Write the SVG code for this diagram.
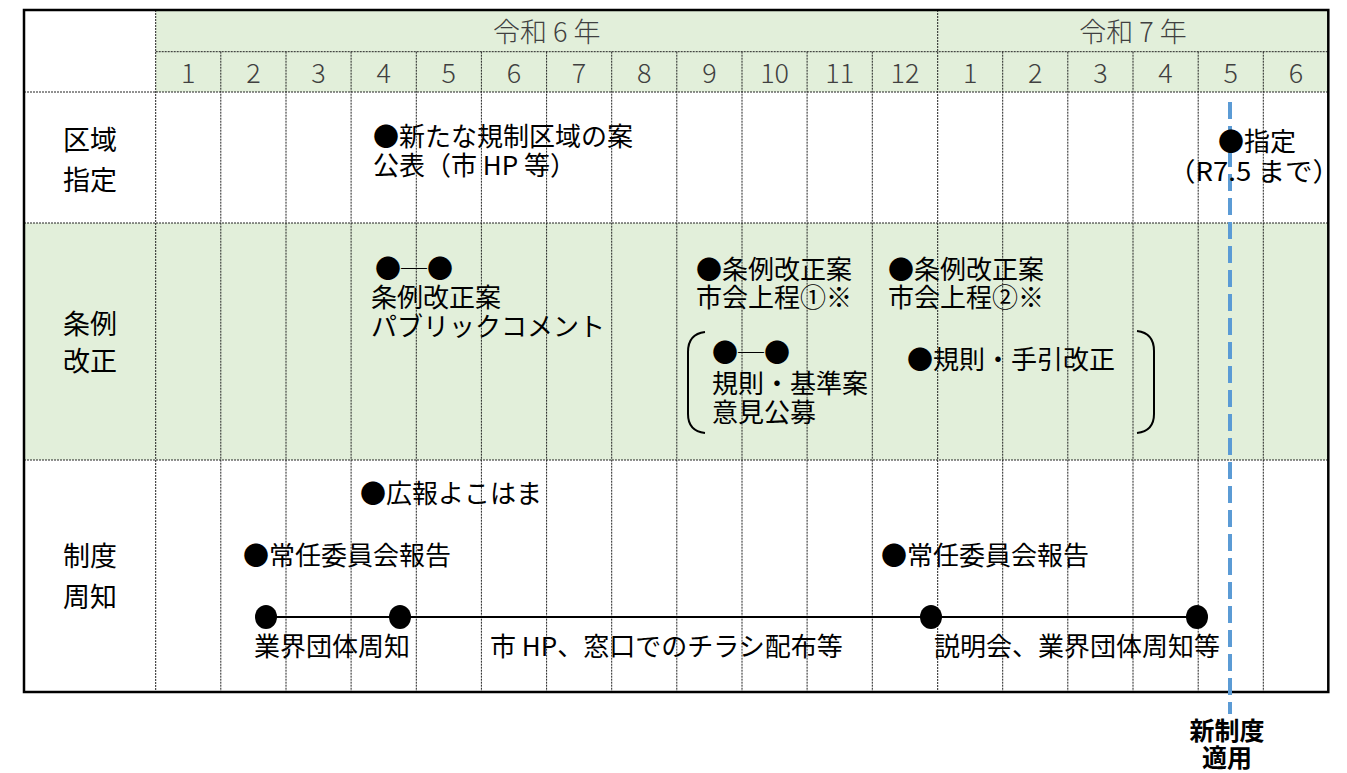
<svg xmlns="http://www.w3.org/2000/svg" width="1347" height="773" viewBox="0 0 1347 773">
<style>
.t{font-family:"Noto Sans CJK JP","Noto Sans",sans-serif;font-size:26px;fill:#000}
.lbl{font-family:"Noto Sans CJK JP","Noto Sans",sans-serif;font-size:27px;fill:#000;text-anchor:middle}
.hd{font-family:"Noto Sans CJK JP","Noto Sans",sans-serif;font-size:27px;font-weight:300;fill:#404040;text-anchor:middle}
.grid{stroke:#222;stroke-width:1;stroke-dasharray:2 1;fill:none}
.br{stroke:#000;stroke-width:2;fill:none}
.dot{fill:#000}
.bold{font-family:"Noto Sans CJK JP","Noto Sans",sans-serif;font-size:25px;font-weight:700;fill:#000;text-anchor:middle}
</style>
<rect x="0" y="0" width="1347" height="773" fill="#fff"/>
<g id="table">
<rect x="155.7" y="10" width="1172.6" height="82" fill="#E2EFDA"/>
<rect x="24" y="223" width="1304.3" height="237" fill="#E2EFDA"/>
<g class="grid">
<line x1="155.7" y1="51.7" x2="1328.3" y2="51.7"/>
<line x1="24" y1="92" x2="1328.3" y2="92"/>
<line x1="24" y1="223" x2="1328.3" y2="223"/>
<line x1="24" y1="460" x2="1328.3" y2="460"/>
<line x1="155.7" y1="10" x2="155.7" y2="692"/>
<line x1="220.8" y1="51.7" x2="220.8" y2="692"/>
<line x1="286" y1="51.7" x2="286" y2="692"/>
<line x1="351.1" y1="51.7" x2="351.1" y2="692"/>
<line x1="416.3" y1="51.7" x2="416.3" y2="692"/>
<line x1="481.4" y1="51.7" x2="481.4" y2="692"/>
<line x1="546.6" y1="51.7" x2="546.6" y2="692"/>
<line x1="611.7" y1="51.7" x2="611.7" y2="692"/>
<line x1="676.8" y1="51.7" x2="676.8" y2="692"/>
<line x1="742" y1="51.7" x2="742" y2="692"/>
<line x1="807.1" y1="51.7" x2="807.1" y2="692"/>
<line x1="872.3" y1="51.7" x2="872.3" y2="692"/>
<line x1="937.7" y1="10" x2="937.7" y2="692"/>
<line x1="1002.7" y1="51.7" x2="1002.7" y2="692"/>
<line x1="1067.8" y1="51.7" x2="1067.8" y2="692"/>
<line x1="1133" y1="51.7" x2="1133" y2="692"/>
<line x1="1198.2" y1="51.7" x2="1198.2" y2="692"/>
<line x1="1263.3" y1="51.7" x2="1263.3" y2="692"/>
</g>
<rect x="24" y="10" width="1304.3" height="682" fill="none" stroke="#000" stroke-width="2.5"/>
</g>
<g id="header">
<text class="hd" x="546.7" y="42">令和 6 年</text>
<text class="hd" x="1133" y="42">令和 7 年</text>
<text class="hd" x="188.2" y="83">1</text>
<text class="hd" x="253.4" y="83">2</text>
<text class="hd" x="318.5" y="83">3</text>
<text class="hd" x="383.7" y="83">4</text>
<text class="hd" x="448.8" y="83">5</text>
<text class="hd" x="514" y="83">6</text>
<text class="hd" x="579.1" y="83">7</text>
<text class="hd" x="644.3" y="83">8</text>
<text class="hd" x="709.4" y="83">9</text>
<text class="hd" x="774.6" y="83">10</text>
<text class="hd" x="839.7" y="83">11</text>
<text class="hd" x="904.9" y="83">12</text>
<text class="hd" x="970.2" y="83">1</text>
<text class="hd" x="1035.3" y="83">2</text>
<text class="hd" x="1100.4" y="83">3</text>
<text class="hd" x="1165.6" y="83">4</text>
<text class="hd" x="1230.8" y="83">5</text>
<text class="hd" x="1295.9" y="83">6</text>
</g>
<g id="row-labels">
<text class="lbl" x="90" y="150">区域</text>
<text class="lbl" x="90" y="190">指定</text>
<text class="lbl" x="90" y="334">条例</text>
<text class="lbl" x="90" y="371">改正</text>
<text class="lbl" x="90" y="566">制度</text>
<text class="lbl" x="90" y="607">周知</text>
</g>
<g id="apply-line">
<line x1="1230" y1="102" x2="1230" y2="714" stroke="#5B9BD5" stroke-width="4" stroke-dasharray="17 7"/>
<text class="bold" x="1227" y="740">新制度</text>
<text class="bold" x="1227" y="767">適用</text>
</g>
<g id="zone-draft">
<text class="t" x="373" y="146">●新たな規制区域の案</text>
<text class="t" x="373" y="175">公表（市 HP 等）</text>
</g>
<g id="zone-designation">
<text class="t" x="1218" y="151">●指定</text>
<text class="t" x="1168" y="181" textLength="172" lengthAdjust="spacingAndGlyphs">（R7.5 まで）</text>
</g>
<g id="ordinance-pubcomment">
<text class="t" x="375" y="278">●─●</text>
<text class="t" x="371" y="307">条例改正案</text>
<text class="t" x="371" y="336">パブリックコメント</text>
</g>
<g id="ordinance-council1">
<text class="t" x="696" y="279">●条例改正案</text>
<text class="t" x="696" y="307">市会上程①※</text>
</g>
<g id="ordinance-council2">
<text class="t" x="888" y="279">●条例改正案</text>
<text class="t" x="888" y="307">市会上程②※</text>
</g>
<g id="rules-comment">
<text class="t" x="712" y="362">●─●</text>
<text class="t" x="712" y="393">規則・基準案</text>
<text class="t" x="712" y="422">意見公募</text>
</g>
<g id="rules-revision">
<text class="t" x="907" y="369">●規則・手引改正</text>
</g>
<g id="brackets">
<path class="br" d="M705 332 Q688 334 688 352 L688 414 Q688 431 705 433"/>
<path class="br" d="M1137 331 Q1154 333 1154 351 L1154 414 Q1154 431 1137 433"/>
</g>
<g id="publicity">
<text class="t" x="360" y="503">●広報よこはま</text>
</g>
<g id="committee1">
<text class="t" x="243" y="565">●常任委員会報告</text>
</g>
<g id="committee2">
<text class="t" x="881" y="565">●常任委員会報告</text>
</g>
<g id="connectors">
<line x1="266" y1="617" x2="1197" y2="617" stroke="#000" stroke-width="2"/>
</g>
<g id="notice-points">
<ellipse class="dot" cx="266" cy="617" rx="11" ry="12"/>
<ellipse class="dot" cx="400" cy="617" rx="11" ry="12"/>
<ellipse class="dot" cx="931" cy="617" rx="11" ry="12"/>
<ellipse class="dot" cx="1197" cy="617" rx="11" ry="12"/>
</g>
<g id="notice-labels">
<text class="t" x="254" y="656">業界団体周知</text>
<text class="t" x="490" y="656">市 HP、窓口でのチラシ配布等</text>
<text class="t" x="934" y="656">説明会、業界団体周知等</text>
</g>
</svg>
